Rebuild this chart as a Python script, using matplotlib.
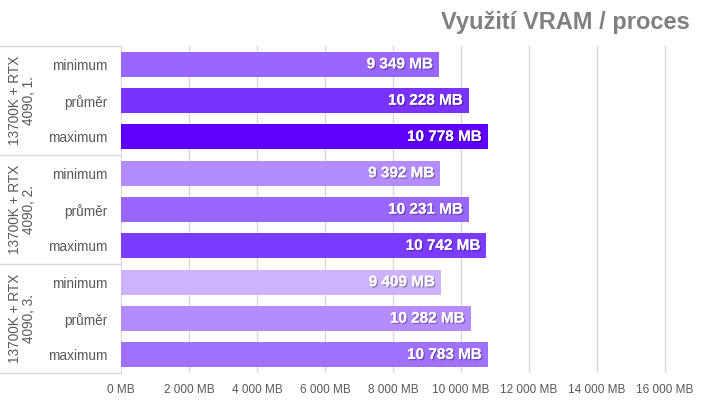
import matplotlib.pyplot as plt
import matplotlib.patheffects as pe

plt.rcParams['font.family'] = ['Liberation Sans', 'DejaVu Sans']

# data
groups = ['13700K + RTX\n4090, 1.', '13700K + RTX\n4090, 2.', '13700K + RTX\n4090, 3.']
stats = ['minimum', 'průměr', 'maximum']
values = [
    [9349, 10228, 10778],
    [9392, 10231, 10742],
    [9409, 10282, 10783],
]
colors = [
    ['#9966ff', '#7a33ff', '#5f00ff'],
    ['#b38cff', '#9966ff', '#7c3cff'],
    ['#ccb3ff', '#b38cff', '#a070ff'],
]
xticks = list(range(0, 16001, 2000))

def fmt(v):
    return f'{v:,}'.replace(',', ' ') + ' MB'

fig = plt.figure(figsize=(7.2, 4.05), dpi=100)
ax = fig.add_axes([0.168, 0.079, 0.803, 0.807])

grid_c = '#d9d9d9'
text_c = '#595959'

ypos = []
labels = []
row = 0
for g in range(len(groups)):
    for s in range(len(stats)):
        v = values[g][s]
        ax.barh(row, v, height=0.69, color=colors[g][s], zorder=3)
        ax.text(v - 180, row, fmt(v), ha='right', va='center', color='white',
                fontsize=11, fontweight='bold', zorder=4,
                path_effects=[pe.withSimplePatchShadow(offset=(1, -1), shadow_rgbFace='black', alpha=0.3), pe.Normal()])
        ypos.append(row)
        labels.append(stats[s])
        row += 1

ax.set_ylim(len(ypos) - 0.5, -0.5)
ax.set_xlim(0, 17000)
ax.set_yticks(ypos)
ax.set_yticklabels(labels, fontsize=9.8, color=text_c)
ax.set_xticks(xticks)
ax.set_xticklabels([fmt(t) for t in xticks], fontsize=8.5, color=text_c)
ax.tick_params(axis='y', length=0, pad=10)
ax.tick_params(axis='x', length=0, pad=8)

for t in xticks[1:]:
    ax.axvline(t, color=grid_c, lw=1, zorder=1)

for sp in ['top', 'right', 'bottom']:
    ax.spines[sp].set_visible(False)
ax.spines['left'].set_color(grid_c)

# group separators and labels on the left
trans = ax.get_yaxis_transform()
for b in [-0.5, 2.5, 5.5, 8.5]:
    ax.plot([-0.168 / 0.803, 0], [b, b], transform=trans, color=grid_c, lw=1, clip_on=False)
for g, name in enumerate(groups):
    ax.text(-0.171, g * 3 + 1, name, transform=trans, rotation=90, ha='center', va='center',
            fontsize=9.8, color=text_c, linespacing=1.05)

fig.text(0.958, 0.945, 'Využití VRAM / proces', ha='right', va='center',
         fontsize=17, fontweight='bold', color='#808080')

fig.savefig('out.png', dpi=100)
